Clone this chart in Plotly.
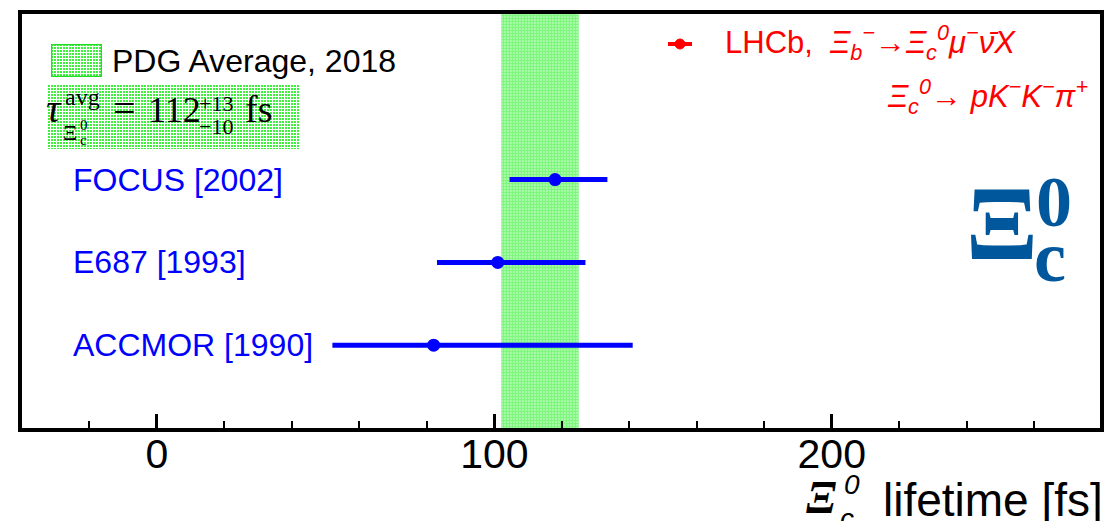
import base64
import plotly.graph_objects as go

# ---------------- data ----------------
experiments = ["ACCMOR [1990]", "E687 [1993]", "FOCUS [2002]"]
rows = [1, 2, 3]
lifetimes = [82, 101, 118]
err_plus = [59, 26, 15.5]
err_minus = [30, 18, 13.5]

pdg_avg = 112
pdg_plus = 13
pdg_minus = 10

x_range = [-40, 279.5]
y_range = [0, 5]
major_ticks = [0, 100, 200]

# ---------------- geometry helpers (window pixel -> paper) ----------------
W, H = 1108, 521
ML, MR, MT, MB = 22, 8, 14, 93
PW, PH = W - ML - MR, H - MT - MB


def px(x):
    return (x - ML) / PW


def py(y):
    return (H - MB - y) / PH


def pattern_img(w, h, border=False):
    b = ('<rect x="0.5" y="0.5" width="%d" height="%d" fill="none" stroke="#22dd22" stroke-width="1.5"/>'
         % (w - 1, h - 1)) if border else ""
    svg = ('<svg xmlns="http://www.w3.org/2000/svg" width="%d" height="%d" viewBox="0 0 %d %d">'
           '<defs><pattern id="p" width="3" height="3" patternUnits="userSpaceOnUse">'
           '<rect width="3" height="3" fill="white"/><rect width="2" height="2" fill="#3cf03c"/>'
           '</pattern></defs><rect width="%d" height="%d" fill="url(#p)"/>%s</svg>'
           % (w, h, w, h, w, h, b))
    return "data:image/svg+xml;base64," + base64.b64encode(svg.encode()).decode()


fig = go.Figure()

# PDG band
lo, hi = pdg_avg - pdg_minus, pdg_avg + pdg_plus
fig.add_trace(go.Scatter(
    x=[lo, hi, hi, lo, lo], y=[y_range[0], y_range[0], y_range[1], y_range[1], y_range[0]],
    mode="none", fill="toself", fillcolor="white",
    fillpattern=dict(shape=".", fgcolor="#00f000", bgcolor="white", size=3, solidity=0.8),
    hoverinfo="skip", showlegend=False))

# measurements
fig.add_trace(go.Scatter(
    x=lifetimes, y=rows, mode="markers",
    marker=dict(color="#0000ff", size=13),
    error_x=dict(type="data", symmetric=False, array=err_plus, arrayminus=err_minus,
                 thickness=5, width=0, color="#0000ff"),
    showlegend=False))

ann = []
# experiment labels
for name, r in zip(experiments, rows):
    ann.append(dict(x=px(71), y=r, xref="paper", yref="y", text=name, showarrow=False,
                    xanchor="left", yanchor="middle",
                    font=dict(family="Liberation Sans", size=32, color="#0000ff")))


def txt(t, x, base, size, family="Liberation Serif", color="black", xanchor="left"):
    ann.append(dict(x=px(x), y=py(base - 0.33 * size), xref="paper", yref="paper", text=t,
                    showarrow=False, xanchor=xanchor, yanchor="middle",
                    font=dict(family=family, size=size, color=color)))


# PDG legend text
txt("PDG Average, 2018", 110, 72, 32, family="Liberation Sans")

# tau formula
txt("<i>τ</i>", 44, 122, 40)
txt("avg", 63, 105, 24)
txt("Ξ", 61, 140, 22)
txt("0", 78, 130, 15)
txt("c", 78, 145, 15)
txt("=", 111, 122, 40)
txt("112", 146, 122, 36)
txt("+13", 197, 111, 22)
txt("−10", 197, 134, 22)
txt("fs", 243, 122, 38)

# LHCb legend (red)
txt("LHCb,  <i>Ξ<sub>b</sub><sup>−</sup></i>→<i>Ξ<sub>c</sub><sup>0</sup>μ<sup>−</sup>ν̄X</i>",
    723, 53, 31, family="Liberation Sans", color="#ff0000")
txt("<i>Ξ<sub>c</sub><sup>0</sup></i>→ <i>pK<sup>−</sup>K<sup>−</sup>π<sup>+</sup></i>",
    1090, 107, 31, family="Liberation Sans", color="#ff0000", xanchor="right")

# Big Xi_c^0
big = "#00579b"
txt("<b>Ξ</b>", 964, 258, 106, color=big)
txt("<b>0</b>", 1034, 226, 72, color=big)
txt("<b>c</b>", 1032, 281, 72, color=big)

# x-axis title
txt("lifetime [fs]", 1105, 515, 46, family="Liberation Sans", xanchor="right")
txt("<b><i>Ξ</i></b>", 804, 513, 46)
txt("<i>0</i>", 842, 494, 28, family="Liberation Sans")
txt("<i>c</i>", 838, 528, 28, family="Liberation Sans")

shapes = [
    # LHCb legend marker
    dict(type="line", xref="paper", yref="paper", x0=px(668), x1=px(692), y0=py(44), y1=py(44),
         line=dict(color="#ff0000", width=4)),
    dict(type="circle", xref="paper", yref="paper", x0=px(675), x1=px(685), y0=py(39), y1=py(49),
         fillcolor="#ff0000", line=dict(color="#ff0000", width=1)),
]

images = [
    dict(source=pattern_img(51, 33, border=True), xref="paper", yref="paper",
         x=px(51), y=py(44), sizex=51 / PW, sizey=33 / PH, xanchor="left", yanchor="top",
         sizing="stretch", layer="above"),
    dict(source=pattern_img(252, 64), xref="paper", yref="paper",
         x=px(48), y=py(85), sizex=252 / PW, sizey=64 / PH, xanchor="left", yanchor="top",
         sizing="stretch", layer="above"),
]

fig.update_layout(
    width=W, height=H, margin=dict(l=ML, r=MR, t=MT, b=MB, autoexpand=False),
    paper_bgcolor="white", plot_bgcolor="white",
    showlegend=False, annotations=ann, shapes=shapes, images=images,
    xaxis=dict(range=x_range, tickvals=major_ticks, ticks="inside", ticklen=14, tickwidth=3,
               tickcolor="black", showline=True, linewidth=4, linecolor="black", mirror=True,
               showgrid=False, zeroline=False, ticklabelstandoff=-13, automargin=False,
               tickfont=dict(family="Liberation Sans", size=41, color="black"),
               minor=dict(dtick=20, tick0=0, ticks="inside", ticklen=7, tickwidth=2,
                          tickcolor="black", showgrid=False)),
    yaxis=dict(range=y_range, showticklabels=False, ticks="", showline=True, linewidth=4,
               linecolor="black", mirror=True, showgrid=False, zeroline=False, automargin=False),
)

fig.write_html("out.html", config={"displayModeBar": False},
               post_script="document.body.style.margin='0px';")
